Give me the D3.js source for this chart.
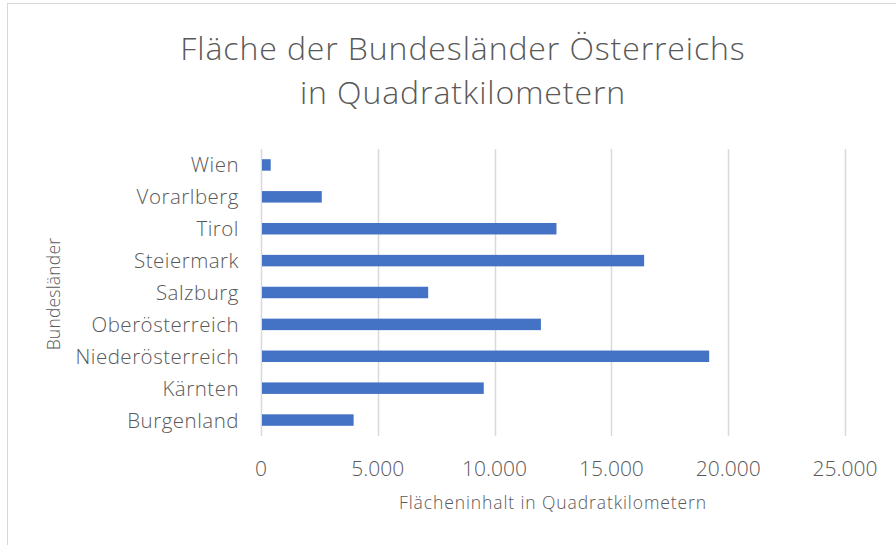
<!DOCTYPE html>
<html>
<head>
<meta charset="utf-8">
<script src="https://cdn.jsdelivr.net/npm/d3@7"></script>
<style>
  body { margin: 0; background: #fff; }
  text { font-family: "Open Sans", Lato, sans-serif; fill: #595959; }
</style>
</head>
<body>
<div id="chart"></div>
<script>
// Fläche der Bundesländer in km²
var categories = ['Burgenland', 'Kärnten', 'Niederösterreich', 'Oberösterreich', 'Salzburg',
    'Steiermark', 'Tirol', 'Vorarlberg', 'Wien'];
var areas = [3965, 9536, 19186, 11982, 7156, 16401, 12648, 2602, 415];
var xTicks = [0, 5000, 10000, 15000, 20000, 25000];

var width = 896, height = 545;
var margin = { left: 261, right: 51, top: 149, bottom: 109 };

var svg = d3.select('#chart')
    .append('svg')
    .attr('width', width)
    .attr('height', height);

// chart area border (only top and left visible)
svg.append('rect')
    .attr('x', 7.5)
    .attr('y', 3.5)
    .attr('width', 900)
    .attr('height', 600)
    .attr('fill', 'none')
    .attr('stroke', '#d9d9d9');

var x = d3.scaleLinear()
    .domain([0, 25000])
    .range([margin.left, width - margin.right]);

var y = d3.scaleBand()
    .domain(categories.slice().reverse())
    .range([margin.top, height - margin.bottom])
    .paddingInner(0.64)
    .paddingOuter(0.32);

// gridlines
svg.append('g')
    .selectAll('line')
    .data(xTicks)
    .enter()
    .append('line')
    .attr('x1', d => Math.round(x(d)) + 0.5)
    .attr('x2', d => Math.round(x(d)) + 0.5)
    .attr('y1', margin.top)
    .attr('y2', height - margin.bottom)
    .attr('stroke', '#d9d9d9')
    .attr('stroke-width', 1.5);

// bars
svg.append('g')
    .selectAll('rect')
    .data(categories)
    .enter()
    .append('rect')
    .attr('x', x(0) + 1)
    .attr('y', d => y(d))
    .attr('width', (d, i) => x(areas[i]) - x(0) - 1)
    .attr('height', y.bandwidth())
    .attr('fill', '#4472c4');

// x tick labels
var fmt = d3.formatLocale({ decimal: ',', thousands: '.', grouping: [3], currency: ['', '€'] }).format(',d');
svg.append('g')
    .selectAll('text')
    .data(xTicks)
    .enter()
    .append('text')
    .attr('x', d => x(d))
    .attr('y', 476)
    .attr('text-anchor', 'middle')
    .style('font-size', '21px')
    .style('font-weight', 300)
    .text(d => fmt(d));

// category labels
svg.append('g')
    .selectAll('text')
    .data(categories)
    .enter()
    .append('text')
    .attr('x', 239)
    .attr('y', d => y(d) + y.bandwidth() / 2 + 7.5)
    .attr('text-anchor', 'end')
    .style('font-size', '20.5px')
    .style('letter-spacing', '0.5px')
    .style('font-weight', 300)
    .text(d => d);

// title
var title = svg.append('text')
    .attr('text-anchor', 'middle')
    .style('font-size', '32px')
    .style('letter-spacing', '0.9px')
    .style('font-weight', 300);
title.append('tspan').attr('x', 463).attr('y', 60).text('Fläche der Bundesländer Österreichs');
title.append('tspan').attr('x', 463).attr('y', 104).text('in Quadratkilometern');

// axis titles
svg.append('text')
    .attr('text-anchor', 'middle')
    .attr('x', 553)
    .attr('y', 509)
    .style('font-size', '17.5px')
    .style('letter-spacing', '0.9px')
    .style('font-weight', 300)
    .text('Flächeninhalt in Quadratkilometern');

svg.append('text')
    .attr('text-anchor', 'middle')
    .attr('transform', 'rotate(-90)')
    .attr('x', -294)
    .attr('y', 60)
    .style('font-size', '17.5px')
    .style('letter-spacing', '0.2px')
    .style('font-weight', 300)
    .text('Bundesländer');
</script>
</body>
</html>
